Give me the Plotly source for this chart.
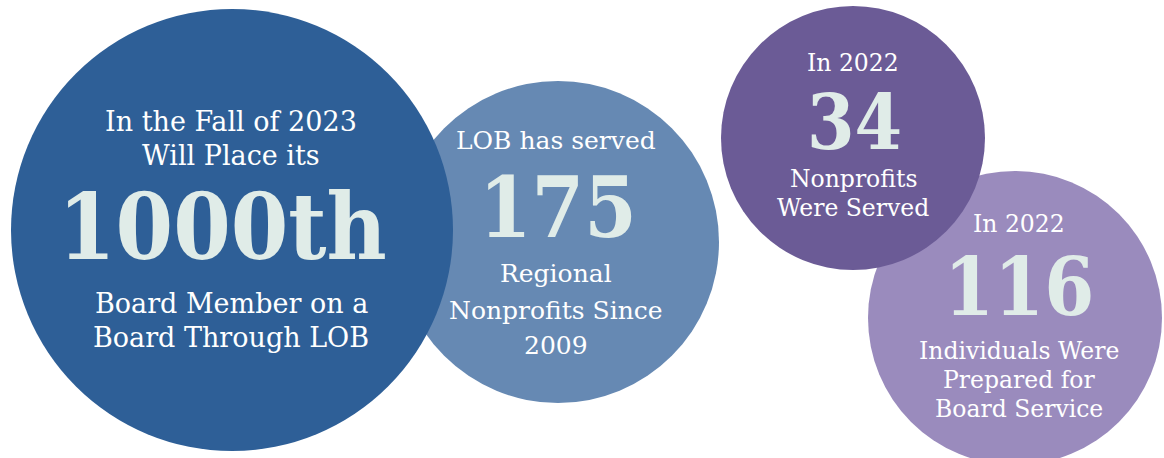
import plotly.graph_objects as go

# ---- data ----
stat_values = ["1000th", "175", "34", "116"]
lead_texts = [["In the Fall of 2023", "Will Place its"], ["LOB has served"], ["In 2022"], ["In 2022"]]
tail_texts = [["Board Member on a", "Board Through LOB"],
              ["Regional", "Nonprofits Since", "2009"],
              ["Nonprofits", "Were Served"],
              ["Individuals Were", "Prepared for", "Board Service"]]

# ---- layout / styling (pixel space) ----
W, H = 1164, 458
circles = [  # cx, cy, r, color
    (232, 230, 221, "#2e5f97"),
    (558, 242, 161, "#6689b3"),
    (853, 138, 132, "#6b5b96"),
    (1015, 318, 147, "#9a8bbd"),
]
draw_order = [1, 0, 3, 2]
text_x = [231, 556, 853, 1019]
num_x = [222, 558, 854, 1019]
lead_y = [[121, 155], [140], [63], [224]]
num_y = [227, 207, 122, 287]
tail_y = [[303, 337], [273, 310, 345], [179, 208], [351, 380, 409]]
small_size = [27, 25, 23.5, 23.5]
num_size = [92, 84, 76, 80]
FONT = "DejaVu Serif"
NUM_FONT = "DejaVu Serif Condensed"
NUM_COLOR = "#e0ece8"

fig = go.Figure()
shapes = []
for i in draw_order:
    cx, cy, r, col = circles[i]
    shapes.append(dict(type="circle", xref="x", yref="y", x0=cx - r, x1=cx + r,
                       y0=cy - r, y1=cy + r, fillcolor=col, line=dict(width=0), layer="below"))

ann = []
for i in range(4):
    tx = text_x[i]
    for t, y in zip(lead_texts[i], lead_y[i]):
        ann.append(dict(x=tx, y=y, text=t, showarrow=False, xanchor="center", yanchor="middle",
                        font=dict(family=FONT, size=small_size[i], color="white")))
    ann.append(dict(x=num_x[i], y=num_y[i], text="<b>" + stat_values[i] + "</b>", showarrow=False,
                    xanchor="center", yanchor="middle",
                    font=dict(family=NUM_FONT, size=num_size[i], color=NUM_COLOR)))
    for t, y in zip(tail_texts[i], tail_y[i]):
        ann.append(dict(x=tx, y=y, text=t, showarrow=False, xanchor="center", yanchor="middle",
                        font=dict(family=FONT, size=small_size[i], color="white")))

fig.add_trace(go.Scatter(x=[0, W], y=[0, H], mode="markers", marker=dict(opacity=0), hoverinfo="skip"))
fig.update_layout(width=W, height=H, margin=dict(l=0, r=0, t=0, b=0),
                  paper_bgcolor="white", plot_bgcolor="white", showlegend=False,
                  shapes=shapes, annotations=ann,
                  xaxis=dict(range=[0, W], visible=False, fixedrange=True),
                  yaxis=dict(range=[H, 0], visible=False, fixedrange=True))
fig.write_html("out.html", config={"displayModeBar": False},
               post_script="document.body.style.margin='0';document.body.style.overflow='hidden';")
